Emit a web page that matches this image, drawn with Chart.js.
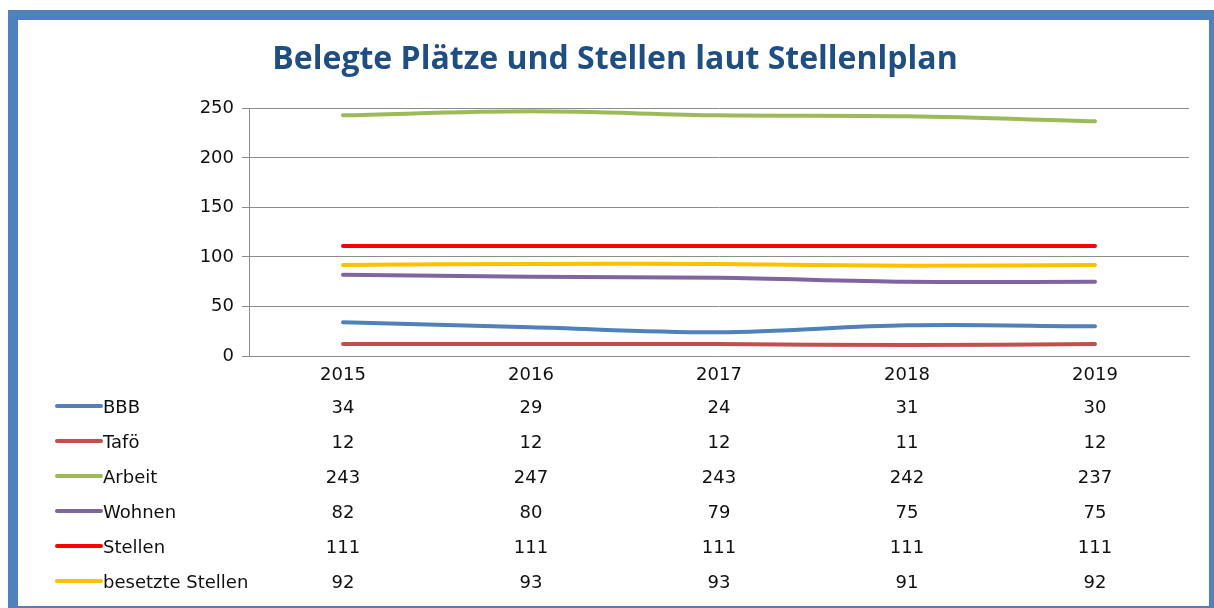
<!DOCTYPE html>
<html>
<head>
<meta charset="utf-8">
<script src="https://cdn.jsdelivr.net/npm/chart.js@4/dist/chart.umd.min.js"></script>
<style>
  html, body { margin: 0; padding: 0; background: #ffffff; overflow: hidden; }
  #wrap { position: relative; width: 1214px; height: 608px; overflow: hidden; }
  #frame { position: absolute; left: 8px; top: 10px; width: 1191px; height: 586px;
           border: 10px solid #4f81bd; pointer-events: none; box-sizing: content-box; }
  canvas { position: absolute; left: 0; top: 0; }
</style>
</head>
<body>
<div id="wrap">
  <canvas id="c" width="1214" height="608"></canvas>
  <div id="frame"></div>
</div>
<script>
const titleText = 'Belegte Plätze und Stellen laut Stellenlplan';
const years = ['2015', '2016', '2017', '2018', '2019'];
const yTicks = [0, 50, 100, 150, 200, 250];

const seriesNames = ['BBB', 'Tafö', 'Arbeit', 'Wohnen', 'Stellen', 'besetzte Stellen'];
const bbb      = [34, 29, 24, 31, 30];
const tafoe    = [12, 12, 12, 11, 12];
const arbeit   = [243, 247, 243, 242, 237];
const wohnen   = [82, 80, 79, 75, 75];
const stellen  = [111, 111, 111, 111, 111];
const besetzt  = [92, 93, 93, 91, 92];

const colors = ['#4f81bd', '#c0504d', '#9bbb59', '#8064a2', '#ff0000', '#ffc000'];
const seriesValues = [bbb, tafoe, arbeit, wohnen, stellen, besetzt];

const FONT = '"DejaVu Sans", sans-serif';

const dataTablePlugin = {
  id: 'dataTable',
  afterDraw(chart) {
    const ctx = chart.ctx;
    const xs = chart.scales.x;
    ctx.save();
    ctx.font = '18px ' + FONT;
    ctx.textBaseline = 'middle';
    chart.data.datasets.forEach((ds, i) => {
      const y = 408 + i * 35;
      ctx.strokeStyle = ds.borderColor;
      ctx.lineWidth = 4;
      ctx.lineCap = 'round';
      ctx.beginPath();
      ctx.moveTo(57, y - 2);
      ctx.lineTo(101, y - 2);
      ctx.stroke();
      ctx.fillStyle = '#111111';
      ctx.textAlign = 'left';
      ctx.fillText(ds.label, 103, y);
      ctx.textAlign = 'center';
      ds.data.forEach((v, j) => {
        ctx.fillText(String(v), xs.getPixelForValue(j), y);
      });
    });
    ctx.restore();
  }
};

new Chart(document.getElementById('c'), {
  type: 'line',
  data: {
    labels: years,
    datasets: seriesNames.map((name, i) => ({
      label: name,
      data: seriesValues[i],
      borderColor: colors[i],
      backgroundColor: colors[i],
      borderWidth: 4,
      pointRadius: 0,
      pointHoverRadius: 0,
      tension: 0.35,
      borderCapStyle: 'round',
      fill: false
    }))
  },
  options: {
    responsive: false,
    animation: false,
    events: [],
    layout: { padding: { left: 41, right: 25, top: 40, bottom: 216 } },
    plugins: {
      legend: { display: false },
      tooltip: { enabled: false },
      title: {
        display: true,
        text: titleText,
        color: '#1f4e85',
        font: { family: '"Open Sans", sans-serif', size: 32, weight: 'bold' },
        padding: { top: 1, bottom: 29 }
      }
    },
    scales: {
      x: {
        type: 'category',
        offset: true,
        grid: { display: false },
        border: { display: true, color: '#8c8c8c', width: 1 },
        ticks: { color: '#111111', font: { family: FONT, size: 18 }, padding: 1, maxRotation: 0 },
        afterFit(scale) { scale.height = 36; }
      },
      y: {
        min: 0,
        max: 250,
        afterBuildTicks(scale) { scale.ticks = yTicks.map(v => ({ value: v })); },
        grid: { color: '#8c8c8c', lineWidth: 1, tickLength: 7, drawTicks: true, tickColor: '#8c8c8c' },
        border: { display: true, color: '#8c8c8c', width: 1 },
        ticks: { color: '#111111', font: { family: FONT, size: 18 }, padding: 8 },
        afterFit(scale) { scale.width = 208; }
      }
    }
  },
  plugins: [dataTablePlugin]
});
</script>
</body>
</html>
